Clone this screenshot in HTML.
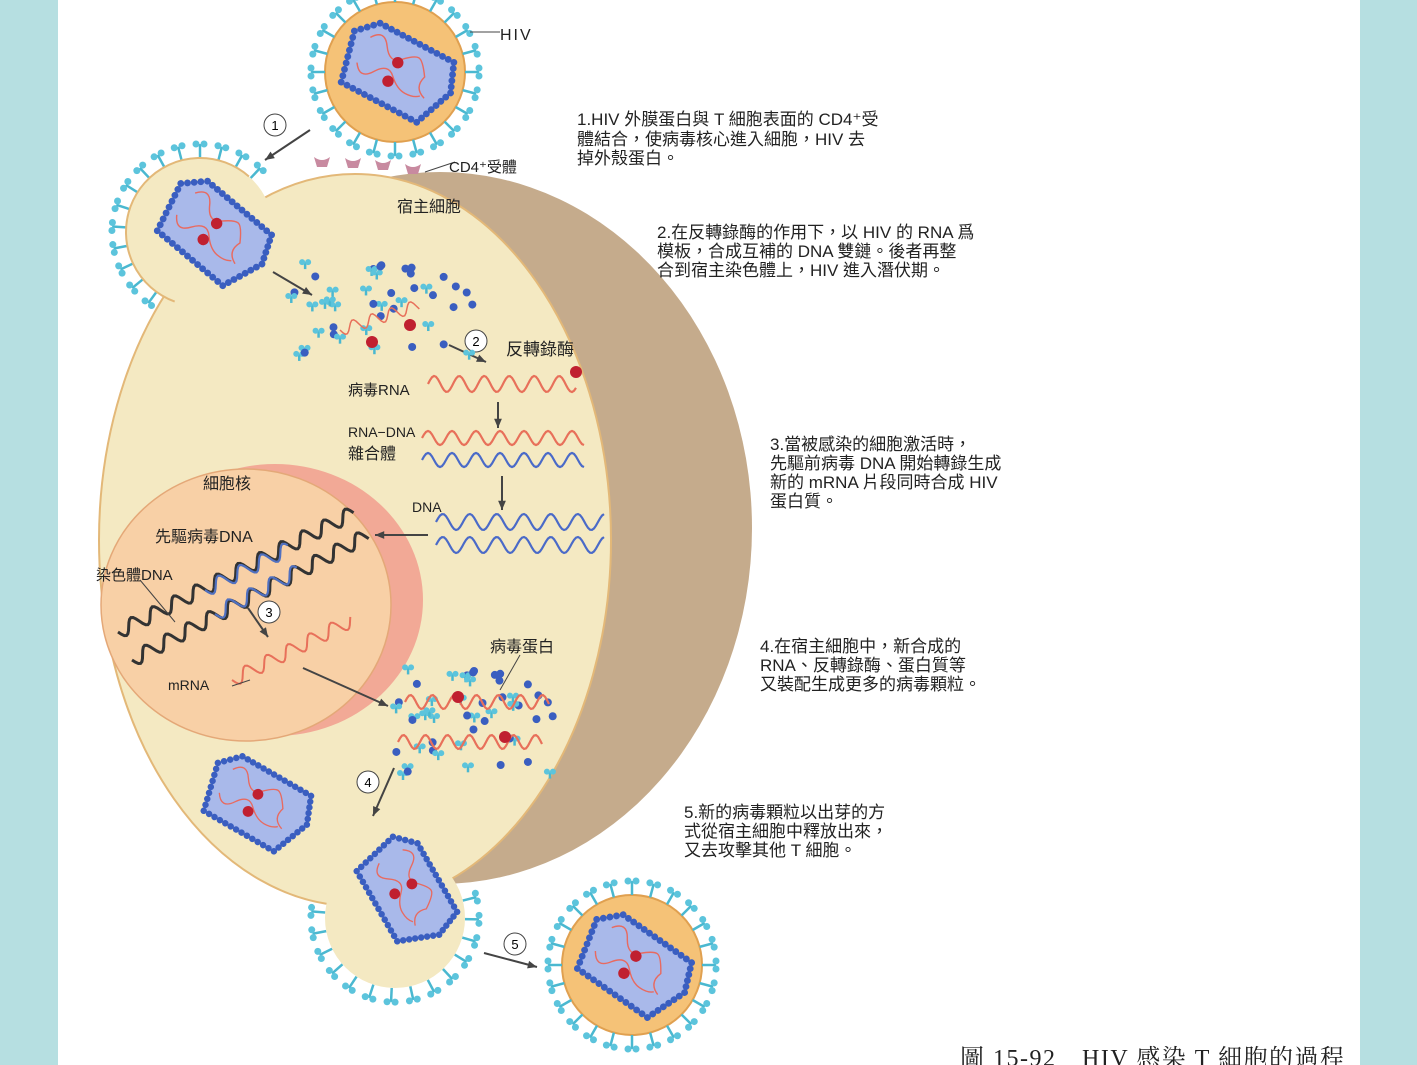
<!DOCTYPE html>
<html><head><meta charset="utf-8">
<style>
html,body{margin:0;padding:0;width:1417px;height:1065px;overflow:hidden;background:#b6dfe1;}
svg{position:absolute;left:0;top:0}
.t{font-family:"Liberation Sans","Noto Sans CJK TC",sans-serif;fill:#222;}
</style></head><body>
<svg id="s" width="1417" height="1065" viewBox="0 0 1417 1065" xmlns="http://www.w3.org/2000/svg">
<rect x="58" y="0" width="1302" height="1065" fill="#fff"/>
<g id="bg"></g>
<ellipse cx="440" cy="528" rx="312" ry="356" fill="#c5ab8c"/>
<g id="buds"></g>
<ellipse cx="355" cy="540" rx="256" ry="366" fill="#f4e9c2" stroke="#e3b878" stroke-width="2"/>
<circle cx="200" cy="232" r="74" fill="#f4e9c2"/>
<circle cx="395" cy="918" r="70" fill="#f4e9c2"/>
<ellipse cx="275" cy="600" rx="148" ry="136" fill="#f2a996"/>
<ellipse cx="246" cy="605" rx="145" ry="136" fill="#f8d0a6" stroke="#e4a878" stroke-width="1.5"/>
<g id="fg"></g>
<g class="t" font-size="16">
<text x="500" y="40" font-size="16" letter-spacing="2">HIV</text>
<text x="449" y="172" font-size="15">CD4⁺受體</text>
<text x="397" y="212" font-size="16">宿主細胞</text>
<text x="506" y="355" font-size="17">反轉錄酶</text>
<text x="348" y="395" font-size="15">病毒RNA</text>
<text x="348" y="437" font-size="14">RNA−DNA</text>
<text x="348" y="459" font-size="16">雜合體</text>
<text x="412" y="512" font-size="14">DNA</text>
<text x="203" y="489" font-size="16">細胞核</text>
<text x="155" y="542" font-size="16">先驅病毒DNA</text>
<text x="96" y="580" font-size="15">染色體DNA</text>
<text x="168" y="690" font-size="14">mRNA</text>
<text x="490" y="652" font-size="16">病毒蛋白</text>
<g font-size="17">
<text x="577" y="125">1.HIV 外膜蛋白與 T 細胞表面的 CD4⁺受</text>
<text x="577" y="145">體結合，使病毒核心進入細胞，HIV 去</text>
<text x="577" y="164">掉外殼蛋白。</text>
<text x="657" y="238">2.在反轉錄酶的作用下，以 HIV 的 RNA 爲</text>
<text x="657" y="257">模板，合成互補的 DNA 雙鏈。後者再整</text>
<text x="657" y="276">合到宿主染色體上，HIV 進入潛伏期。</text>
<text x="770" y="450">3.當被感染的細胞激活時，</text>
<text x="770" y="469">先驅前病毒 DNA 開始轉錄生成</text>
<text x="770" y="488">新的 mRNA 片段同時合成 HIV</text>
<text x="770" y="507">蛋白質。</text>
<text x="760" y="652">4.在宿主細胞中，新合成的</text>
<text x="760" y="671">RNA、反轉錄酶、蛋白質等</text>
<text x="760" y="690">又裝配生成更多的病毒顆粒。</text>
<text x="684" y="818">5.新的病毒顆粒以出芽的方</text>
<text x="684" y="837">式從宿主細胞中釋放出來，</text>
<text x="684" y="856">又去攻擊其他 T 細胞。</text>
</g>
<text x="960" y="1066" font-size="24" font-family="Liberation Serif,Noto Serif CJK SC,serif" letter-spacing="1.5">圖 15-92　HIV 感染 T 細胞的過程</text>
</g>
</svg>
<script>
const NS="http://www.w3.org/2000/svg";
function el(p,n,a){const e=document.createElementNS(NS,n);for(const k in a)e.setAttribute(k,a[k]);document.getElementById(p).appendChild(e);return e;}
function spike(p,cx,cy,r,a){const x1=cx+r*Math.cos(a),y1=cy+r*Math.sin(a),x2=cx+(r+14)*Math.cos(a),y2=cy+(r+14)*Math.sin(a);
 el(p,'line',{x1,y1,x2,y2,stroke:'#4ab8d0','stroke-width':2.5});
 const px=-Math.sin(a),py=Math.cos(a);
 el(p,'circle',{cx:x2+px*4,cy:y2+py*4,r:3.5,fill:'#5cc4dc'});
 el(p,'circle',{cx:x2-px*4,cy:y2-py*4,r:3.5,fill:'#5cc4dc'});}
function core(p,cx,cy,rot,s){s=s||1;const g=el(p,'g',{transform:`translate(${cx},${cy}) rotate(${rot}) scale(${s})`});g.id='c'+Math.random().toString(36).slice(2);
 const pts=[[-58,-18],[-38,-38],[50,-38],[62,-8],[45,36],[-45,36]];
 el(g.id,'polygon',{points:pts.map(p=>p.join(',')).join(' '),fill:'#a9b9ea'});
 for(let i=0;i<pts.length;i++){const a=pts[i],b=pts[(i+1)%pts.length];const d=Math.hypot(b[0]-a[0],b[1]-a[1]);const n=Math.round(d/7);
  for(let j=0;j<n;j++){const t=j/n;el(g.id,'circle',{cx:a[0]+(b[0]-a[0])*t,cy:a[1]+(b[1]-a[1])*t,r:3.6,fill:'#3a5ec0'});}}
 el(g.id,'path',{d:'M-40,-20 q10,-15 20,0 t20,5 t15,-10 t15,15 q-5,15 10,20 M-40,10 q10,15 20,0 t20,-5 t20,10 t15,-5',fill:'none',stroke:'#e86a60','stroke-width':1.5});
 el(g.id,'circle',{cx:-2,cy:-10,r:6,fill:'#c02030'});el(g.id,'circle',{cx:-2,cy:12,r:6,fill:'#c02030'});}
function virus(cx,cy,rot){el('fg','circle',{cx,cy,r:70,fill:'#f5c277',stroke:'#e0a050','stroke-width':2});
 for(let i=0;i<24;i++)spike('fg',cx,cy,70,i*Math.PI*2/24);core('fg',cx,cy,rot,0.95);}
virus(395,72,28);virus(632,965,35);
for(let i=0;i<15;i++){const a=Math.PI*(0.62+i*0.08);spike('bg',200,232,74,a);}
for(let i=0;i<15;i++){const a=Math.PI*(-0.08+i*0.085);spike('bg',395,918,70,a);}
el('fg','circle',{cx:200,cy:232,r:74,fill:'none',stroke:'#e3b878','stroke-width':2,'stroke-dasharray':'260 300','transform':'rotate(110 200 232)'});
core('fg',212,232,40,0.95);core('fg',255,803,30,0.9);core('fg',405,890,60,0.9);
[[322,165],[353,166],[383,168],[413,172]].forEach(([x,y])=>el('fg','path',{d:`M${x-8},${y-8} q8,6 16,0 l-3,10 h-10 z`,fill:'#c88aa0'}));
function wave(x,y,len,amp,per,col,w){let d=`M${x},${y}`;for(let i=0;i<=len;i+=2)d+=` L${x+i},${y-amp*Math.sin(i/per*2*Math.PI)}`;el('fg','path',{d,fill:'none',stroke:col,'stroke-width':w||2.2});}
wave(428,384,148,8,25,'#e8705a');wave(422,438,162,7,24,'#e8705a');wave(422,460,162,7,24,'#4a6ac8');
wave(436,522,168,8,27,'#4a6ac8');wave(436,545,168,8,27,'#4a6ac8');
function dwave(x1,y1,x2,y2,amp,per,col,w){const L=Math.hypot(x2-x1,y2-y1),ux=(x2-x1)/L,uy=(y2-y1)/L;let d='';for(let i=0;i<=L;i+=2){const o=amp*Math.sin(i/per*2*Math.PI);d+=(i?' L':'M')+(x1+ux*i-uy*o)+','+(y1+uy*i+ux*o);}el('fg','path',{d,fill:'none',stroke:col,'stroke-width':w});}
dwave(118,632,355,512,7,24,'#333',3);dwave(132,660,368,535,7,24,'#333',3);
dwave(205,590,290,548,7,24,'#5070c0',2.2);dwave(215,614,300,570,7,24,'#5070c0',2.2);
dwave(232,680,352,620,7,24,'#e8705a',2);
function arrow(x1,y1,x2,y2){el('fg','line',{x1,y1,x2,y2,stroke:'#444','stroke-width':2});const a=Math.atan2(y2-y1,x2-x1);
 el('fg','path',{d:`M${x2},${y2} L${x2-10*Math.cos(a-0.4)},${y2-10*Math.sin(a-0.4)} L${x2-10*Math.cos(a+0.4)},${y2-10*Math.sin(a+0.4)} z`,fill:'#444'});}
arrow(310,130,265,160);arrow(273,272,312,295);arrow(449,345,486,362);arrow(498,402,498,428);arrow(502,476,502,510);
arrow(428,535,375,535);arrow(248,608,268,637);arrow(303,668,388,706);arrow(394,768,373,816);arrow(484,953,537,967);
function num(x,y,n){el('fg','circle',{cx:x,cy:y,r:11,fill:'#fff',stroke:'#444','stroke-width':1});const t=el('fg','text',{x,y:y+5,'text-anchor':'middle','font-size':13,'font-family':'Liberation Sans'});t.textContent=n;}
num(275,125,1);num(476,341,2);num(269,612,3);num(368,782,4);num(515,944,5);
function scatter(x0,y0,w,h,n){let s=7;const r=()=>{s=(s*9301+49297)%233280;return s/233280};
 for(let i=0;i<n;i++){const x=x0+r()*w,y=y0+r()*h;if(r()<0.5)el('fg','circle',{cx:x,cy:y,r:4,fill:'#3a5ec0'});
 else{el('fg','line',{x1:x,y1:y,x2:x,y2:y+7,stroke:'#4ab8d0','stroke-width':2.5});el('fg','circle',{cx:x-3,cy:y,r:3,fill:'#5cc4dc'});el('fg','circle',{cx:x+3,cy:y,r:3,fill:'#5cc4dc'});}}}
scatter(290,260,185,100,45);scatter(395,665,160,115,50);
wave(405,702,145,7,22,'#e8705a');wave(398,742,145,7,22,'#e8705a');
dwave(340,330,420,305,6,20,'#e8705a',1.5);
[[372,342],[410,325],[458,697],[505,737]].forEach(([x,y])=>el('fg','circle',{cx:x,cy:y,r:6,fill:'#c02030'}));
el('fg','circle',{cx:576,cy:372,r:6,fill:'#c02030'});
[[455,162,425,172],[470,32,500,32],[140,580,175,622],[232,686,250,680],[520,655,500,690]].forEach(([a,b,c,d])=>el('fg','line',{x1:a,y1:b,x2:c,y2:d,stroke:'#444','stroke-width':1}));
</script>
</body></html>
